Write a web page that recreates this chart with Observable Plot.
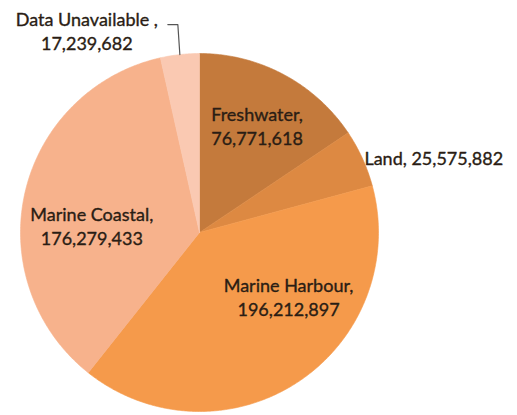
<!DOCTYPE html>
<html>
<head>
<meta charset="utf-8">
<script src="https://cdn.jsdelivr.net/npm/d3@7"></script>
<script src="https://cdn.jsdelivr.net/npm/@observablehq/plot@0.6"></script>
<style>
  html, body { margin: 0; padding: 0; background: #ffffff; }
  #chart { width: 517px; height: 415px; }
</style>
</head>
<body>
<div id="chart"></div>
<script>
// ---- data ----
const categories = ["Freshwater", "Land", "Marine Harbour", "Marine Coastal", "Data Unavailable"];
const values = [76771618, 25575882, 196212897, 176279433, 17239682];
const separators = [",\n", ", ", ",\n", ",\n", " ,\n"];

// ---- styles / layout ----
const colors = ["#c47a3c", "#dd8942", "#f59a4b", "#f7b28c", "#fac9b2"];
// label placement: radial fraction of the slice's mid-angle, plus pixel nudges
const labelLayout = [
  {r: 0.6, dx: 7,   dy: -12, anchor: "middle"},
  {r: 1.0, dx: 2,   dy: -1,  anchor: "start"},
  {r: 0.6, dx: 30,  dy: -26, anchor: "middle"},
  {r: 0.6, dx: -3,  dy: 17,  anchor: "middle"},
  {r: 1.0, dx: -93, dy: -24, anchor: "middle"}
];
const W = 517, H = 415, R = 179, CX = 199, CY = 232;

const fmt = d3.format(",");
const arcs = d3.pie().sort(null).startAngle(0).endAngle(2 * Math.PI)(values);
const pt = (a, r) => ({x: r * Math.sin(a), y: r * Math.cos(a)});

const slices = arcs.map((a, i) => {
  const pts = [{x: 0, y: 0}];
  const n = Math.max(2, Math.ceil((a.endAngle - a.startAngle) / (Math.PI / 360)));
  for (let k = 0; k <= n; k++) {
    pts.push(pt(a.startAngle + (a.endAngle - a.startAngle) * k / n, 1));
  }
  pts.push({x: 0, y: 0});
  return {name: categories[i], color: colors[i], pts};
});

const labels = arcs.map((a, i) => {
  const mid = (a.startAngle + a.endAngle) / 2;
  const p = pt(mid, labelLayout[i].r);
  return {x: p.x, y: p.y, text: categories[i] + separators[i] + fmt(values[i]),
          dx: labelLayout[i].dx, dy: labelLayout[i].dy, anchor: labelLayout[i].anchor};
});

// leader line for the small "Data Unavailable" slice
const du = arcs[4];
const duEdge = pt((du.startAngle + du.endAngle) / 2, 1);
const leader = [
  {x: duEdge.x, y: duEdge.y},
  {x: duEdge.x - 2 / R, y: duEdge.y + 30 / R},
  {x: duEdge.x - 12 / R, y: duEdge.y + 30 / R}
];

const marks = [];
slices.forEach(s => {
  marks.push(Plot.line(s.pts, {x: "x", y: "y", fill: s.color, stroke: s.color, strokeWidth: 0.6, curve: "linear"}));
});
marks.push(Plot.line(leader, {x: "x", y: "y", stroke: "#555555", strokeWidth: 1.2}));
labels.forEach(l => {
  marks.push(Plot.text([l], {
    x: "x", y: "y", text: "text", dx: l.dx, dy: l.dy,
    textAnchor: l.anchor, lineHeight: 1.32,
    fill: "#2a1d14", stroke: "#2a1d14", strokeWidth: 0.35, fontSize: 18
  }));
});

const chart = Plot.plot({
  width: W,
  height: H,
  margin: 0,
  x: {domain: [-CX / R, (W - CX) / R], axis: null},
  y: {domain: [-(H - CY) / R, CY / R], axis: null},
  style: {fontFamily: "Lato, 'Open Sans', sans-serif", background: "#ffffff", overflow: "visible"},
  marks
});
document.getElementById("chart").appendChild(chart);
</script>
</body>
</html>
